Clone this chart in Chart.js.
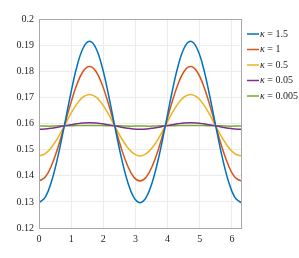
<!DOCTYPE html>
<html>
<head>
<meta charset="utf-8">
<script src="https://cdn.jsdelivr.net/npm/chart.js@4/dist/chart.umd.min.js"></script>
<style>
html, body { margin: 0; padding: 0; background: #fff; }
#wrap { width: 299px; height: 258px; }
</style>
</head>
<body>
<div id="wrap"><canvas id="chart"></canvas></div>
<script>
// x samples (every pi/16 from 0 to 2*pi)
const xs = [0, 0.196, 0.393, 0.589, 0.785, 0.982, 1.178, 1.374, 1.571, 1.767, 1.963, 2.160, 2.356, 2.553, 2.749, 2.945,
            3.142, 3.338, 3.534, 3.731, 3.927, 4.123, 4.320, 4.516, 4.712, 4.909, 5.105, 5.301, 5.498, 5.694, 5.890, 6.087, 6.283];

const kappas = ['1.5', '1', '0.5', '0.05', '0.005'];

// values
const k150 = [0.1297, 0.1318, 0.1380, 0.1474, 0.1590, 0.1711, 0.1817, 0.1889, 0.1915, 0.1889, 0.1817, 0.1711, 0.1590, 0.1474, 0.1380, 0.1318,
              0.1297, 0.1318, 0.1380, 0.1474, 0.1590, 0.1711, 0.1817, 0.1889, 0.1915, 0.1889, 0.1817, 0.1711, 0.1590, 0.1474, 0.1380, 0.1318, 0.1297];
const k100 = [0.1380, 0.1395, 0.1440, 0.1508, 0.1590, 0.1675, 0.1749, 0.1800, 0.1818, 0.1800, 0.1749, 0.1675, 0.1590, 0.1508, 0.1440, 0.1395,
              0.1380, 0.1395, 0.1440, 0.1508, 0.1590, 0.1675, 0.1749, 0.1800, 0.1818, 0.1800, 0.1749, 0.1675, 0.1590, 0.1508, 0.1440, 0.1395, 0.1380];
const k050 = [0.1476, 0.1485, 0.1509, 0.1546, 0.1590, 0.1636, 0.1675, 0.1702, 0.1711, 0.1702, 0.1675, 0.1636, 0.1590, 0.1546, 0.1509, 0.1485,
              0.1476, 0.1485, 0.1509, 0.1546, 0.1590, 0.1636, 0.1675, 0.1702, 0.1711, 0.1702, 0.1675, 0.1636, 0.1590, 0.1546, 0.1509, 0.1485, 0.1476];
const k005 = [0.1578, 0.1579, 0.1582, 0.1586, 0.1591, 0.1595, 0.1599, 0.1602, 0.1603, 0.1602, 0.1599, 0.1595, 0.1591, 0.1586, 0.1582, 0.1579,
              0.1578, 0.1579, 0.1582, 0.1586, 0.1591, 0.1595, 0.1599, 0.1602, 0.1603, 0.1602, 0.1599, 0.1595, 0.1591, 0.1586, 0.1582, 0.1579, 0.1578];
const k0005 = [0.1590, 0.1590, 0.1590, 0.1591, 0.1591, 0.1591, 0.1592, 0.1592, 0.1592, 0.1592, 0.1592, 0.1591, 0.1591, 0.1591, 0.1590, 0.1590,
               0.1590, 0.1590, 0.1590, 0.1591, 0.1591, 0.1591, 0.1592, 0.1592, 0.1592, 0.1592, 0.1592, 0.1591, 0.1591, 0.1591, 0.1590, 0.1590, 0.1590];

const colors = ['#0072BD', '#D95319', '#EDB120', '#7E2F8E', '#77AC30'];
const series = [k150, k100, k050, k005, k0005];

const toPoints = arr => arr.map((v, i) => ({ x: xs[i], y: v }));

const serif = '"Liberation Serif", "DejaVu Serif", serif';

// box around the plot + legend on the right
const boxAndLegend = {
    id: 'boxAndLegend',
    afterDraw(chart) {
        const { ctx, chartArea: a } = chart;
        ctx.save();
        ctx.strokeStyle = '#a8a8a8';
        ctx.lineWidth = 1;
        ctx.strokeRect(Math.round(a.left) + 0.5, Math.round(a.top) + 0.5, Math.round(a.right - a.left), Math.round(a.bottom - a.top));

        let y = 34;
        chart.data.datasets.forEach((ds, i) => {
            ctx.strokeStyle = ds.borderColor;
            ctx.lineWidth = 1.5;
            ctx.beginPath();
            ctx.moveTo(247, y);
            ctx.lineTo(259, y);
            ctx.stroke();
            ctx.fillStyle = '#222';
            ctx.textBaseline = 'middle';
            ctx.font = 'italic 10px ' + serif;
            ctx.fillText('κ', 260, y);
            const w = ctx.measureText('κ').width;
            ctx.font = '10px ' + serif;
            ctx.fillText(' = ' + kappas[i], 260 + w, y);
            y += 15.5;
        });
        ctx.restore();
    }
};

new Chart(document.getElementById('chart'), {
    type: 'line',
    data: {
        datasets: series.map((s, i) => ({
            label: 'κ = ' + kappas[i],
            data: toPoints(s),
            borderColor: colors[i],
            backgroundColor: colors[i],
            borderWidth: 1.5,
            pointRadius: 0,
            tension: 0.4,
            fill: false
        }))
    },
    options: {
        responsive: true,
        maintainAspectRatio: false,
        animation: false,
        layout: { padding: { top: 19, right: 58, left: 0, bottom: 0 } },
        plugins: {
            legend: { display: false },
            tooltip: { enabled: false }
        },
        scales: {
            x: {
                type: 'linear',
                min: 0,
                max: 6.283,
                afterBuildTicks: s => { s.ticks = [0, 1, 2, 3, 4, 5, 6].map(v => ({ value: v })); },
                afterFit: s => { s.height = 30; },
                grid: { color: '#ececec', drawTicks: false },
                border: { color: '#a8a8a8' },
                ticks: { color: '#262626', padding: 5, font: { family: serif, size: 10 }, maxRotation: 0 }
            },
            y: {
                min: 0.12,
                max: 0.2,
                afterBuildTicks: s => { s.ticks = [0.12, 0.13, 0.14, 0.15, 0.16, 0.17, 0.18, 0.19, 0.2].map(v => ({ value: v })); },
                afterFit: s => { s.width = 39; },
                grid: { color: '#ececec', drawTicks: false },
                border: { color: '#a8a8a8' },
                ticks: {
                    color: '#262626',
                    padding: 5,
                    font: { family: serif, size: 10 },
                    callback: v => String(Math.round(v * 100) / 100)
                }
            }
        }
    },
    plugins: [boxAndLegend]
});
</script>
</body>
</html>
